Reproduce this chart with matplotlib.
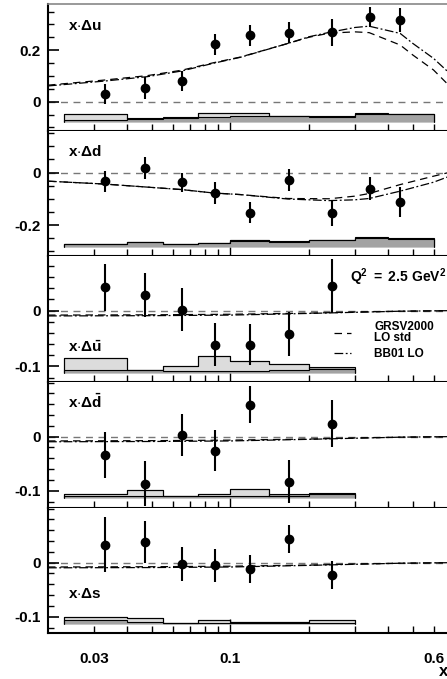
import numpy as np
import matplotlib
matplotlib.use('Agg')
import matplotlib.pyplot as plt
from matplotlib.ticker import FixedLocator, MultipleLocator, NullFormatter
from matplotlib.lines import Line2D

plt.rcParams['font.family'] = ['Liberation Sans', 'DejaVu Sans']
plt.rcParams['font.weight'] = 'bold'
plt.rcParams['mathtext.fontset'] = 'custom'
plt.rcParams['mathtext.rm'] = 'Liberation Sans:bold'
plt.rcParams['mathtext.bf'] = 'Liberation Sans:bold'
plt.rcParams['mathtext.it'] = 'Liberation Sans:bold'

# ---- data ----
x_pts = [0.033, 0.047, 0.065, 0.087, 0.119, 0.168, 0.245, 0.342, 0.447]
bin_edges = [0.023, 0.04, 0.055, 0.075, 0.1, 0.14, 0.2, 0.3, 0.4, 0.6]

u_val = [0.030, 0.052, 0.080, 0.222, 0.258, 0.267, 0.270, 0.329, 0.317]
u_err = [0.039, 0.043, 0.040, 0.042, 0.040, 0.041, 0.052, 0.039, 0.048]
d_val = [-0.034, 0.017, -0.038, -0.078, -0.153, -0.030, -0.153, -0.061, -0.114]
d_err = [0.041, 0.041, 0.038, 0.043, 0.039, 0.042, 0.049, 0.043, 0.057]
ubar_val = [0.042, 0.028, 0.002, -0.061, -0.061, -0.042, 0.044]
ubar_err = [0.042, 0.040, 0.039, 0.039, 0.037, 0.039, 0.049]
dbar_val = [-0.034, -0.087, 0.003, -0.026, 0.059, -0.083, 0.024]
dbar_err = [0.042, 0.042, 0.038, 0.038, 0.034, 0.040, 0.044]
s_val = [0.033, 0.038, -0.002, -0.005, -0.012, 0.043, -0.022]
s_err = [0.051, 0.039, 0.031, 0.030, 0.026, 0.026, 0.026]

# systematic bands: baseline, light (model) tops, dark (exp.) tops
u_base = -0.0775
u_light = [-0.048, -0.066, -0.063, -0.043, -0.045, -0.056, -0.058, -0.047, -0.049]
u_dark = [-0.070, -0.065, -0.061, -0.060, -0.057, -0.054, -0.056, -0.045, -0.047]
d_base = -0.284
d_light = [-0.272, -0.265, -0.273, -0.268, -0.257, -0.263, -0.258, -0.248, -0.252]
d_dark = [-0.273, -0.266, -0.272, -0.267, -0.261, -0.262, -0.256, -0.245, -0.249]
ubar_base = -0.112
ubar_light = [-0.085, -0.106, -0.100, -0.082, -0.090, -0.096, -0.104]
ubar_dark = [-0.107, -0.107, -0.108, -0.108, -0.108, -0.107, -0.101]
dbar_base = -0.114
dbar_light = [-0.107, -0.098, -0.110, -0.107, -0.096, -0.109, -0.106]
dbar_dark = [-0.110, -0.109, -0.109, -0.109, -0.109, -0.107, -0.105]
s_base = -0.114
s_light = [-0.100, -0.102, -0.111, -0.106, -0.110, -0.110, -0.106]
s_dark = [-0.106, -0.110, -0.111, -0.111, -0.111, -0.111, -0.111]

# model curves
bb_u_x = [0.02, 0.033, 0.048, 0.065, 0.086, 0.109, 0.166, 0.2, 0.239, 0.3, 0.34, 0.447, 0.5, 0.6, 0.7]
bb_u = [0.061, 0.080, 0.097, 0.119, 0.149, 0.172, 0.226, 0.252, 0.269, 0.288, 0.293, 0.265, 0.226, 0.168, 0.105]
gr_u = [0.064, 0.084, 0.101, 0.122, 0.151, 0.173, 0.226, 0.250, 0.266, 0.271, 0.268, 0.220, 0.181, 0.123, 0.055]

bb_d_x = [0.02, 0.033, 0.065, 0.086, 0.109, 0.166, 0.239, 0.3, 0.34, 0.447, 0.6, 0.7]
bb_d = [-0.033, -0.044, -0.065, -0.078, -0.084, -0.101, -0.107, -0.104, -0.099, -0.071, -0.037, -0.012]
gr_d = [-0.033, -0.044, -0.065, -0.078, -0.084, -0.099, -0.100, -0.090, -0.080, -0.046, -0.014, 0.002]

sea_x = [0.02, 0.05, 0.1, 0.2, 0.3, 0.45, 0.7]
bb_sea = [-0.0095, -0.009, -0.008, -0.005, -0.003, -0.001, 0.0]
gr_sea = [-0.008, -0.0075, -0.0065, -0.0045, -0.0025, -0.001, 0.0]

panels = [
    dict(lab=r'$\mathbf{x{\cdot}\Delta u}$', ly=0.80, y=u_val, e=u_err, base=u_base, lt=u_light, dk=u_dark,
         cx=bb_u_x, bb=bb_u, gr=gr_u, ylim=(-0.112, 0.378), minor=0.05,
         ticks=[0, 0.2], tlabs=['0', '0.2']),
    dict(lab=r'$\mathbf{x{\cdot}\Delta d}$', ly=0.80, y=d_val, e=d_err, base=d_base, lt=d_light, dk=d_dark,
         cx=bb_d_x, bb=bb_d, gr=gr_d, ylim=(-0.318, 0.16), minor=0.05,
         ticks=[-0.2, 0], tlabs=['-0.2', '0']),
    dict(lab=r'$\mathbf{x{\cdot}\Delta\bar{u}}$', ly=0.236, y=ubar_val, e=ubar_err, base=ubar_base, lt=ubar_light, dk=ubar_dark,
         cx=sea_x, bb=bb_sea, gr=gr_sea, ylim=(-0.128, 0.098), minor=0.02,
         ticks=[-0.1, 0], tlabs=['-0.1', '0']),
    dict(lab=r'$\mathbf{x{\cdot}\Delta\bar{d}}$', ly=0.79, y=dbar_val, e=dbar_err, base=dbar_base, lt=dbar_light, dk=dbar_dark,
         cx=sea_x, bb=bb_sea, gr=gr_sea, ylim=(-0.132, 0.101), minor=0.02,
         ticks=[-0.1, 0], tlabs=['-0.1', '0']),
    dict(lab=r'$\mathbf{x{\cdot}\Delta s}$', ly=0.28, y=s_val, e=s_err, base=s_base, lt=s_light, dk=s_dark,
         cx=sea_x, bb=bb_sea, gr=gr_sea, ylim=(-0.129, 0.101), minor=0.02,
         ticks=[-0.1, 0], tlabs=['-0.1', '0']),
]

W, H = 447, 679
fig = plt.figure(figsize=(W / 100, H / 100), dpi=100)
bounds = [4.3, 130.5, 256, 382, 508, 632.5]   # panel edges in pixels from top
left, width = 48 / W, 403 / W

dash_dot = (0, (7, 2, 1.5, 2))
dashed = (0, (6, 4))

for i, p in enumerate(panels):
    top, bot = bounds[i], bounds[i + 1]
    ax = fig.add_axes([left, 1 - bot / H, width, (bot - top) / H])
    ax.set_xscale('log')
    ax.set_xlim(0.02, 0.7)
    ax.set_ylim(*p['ylim'])

    n = len(p['y'])
    xs = x_pts[:n]
    edges = bin_edges[:n + 1]

    ax.axhline(0, ls=(0, (5, 4)), color='#777777', lw=1.0, zorder=1)
    ax.stairs(p['lt'], edges, baseline=p['base'], fill=True, facecolor='#dcdcdc',
              edgecolor='black', lw=0.8, zorder=2)
    ax.stairs(p['dk'], edges, baseline=p['base'], fill=True, facecolor='#a3a3a3',
              edgecolor='black', lw=0.8, zorder=3)
    ax.stairs(p['lt'], edges, baseline=p['base'], fill=False, color='black', lw=0.8, zorder=3)

    ax.plot(p['cx'], p['gr'], color='black', lw=0.9, ls=dashed, zorder=4)
    ax.plot(p['cx'], p['bb'], color='black', lw=0.9, ls=dash_dot, zorder=4)

    ax.errorbar(xs, p['y'], yerr=p['e'], fmt='o', color='black', ms=6,
                elinewidth=1.5, capsize=0, zorder=5)

    ax.text(0.049, p['ly'], p['lab'], transform=ax.transAxes, fontsize=11,
            ha='left', va='baseline')

    # axes styling
    ax.spines['right'].set_visible(False)
    if i == 0:
        ax.spines['top'].set_color('#888888')
        ax.spines['top'].set_linewidth(1.2)
    else:
        ax.spines['top'].set_visible(False)
    ax.spines['left'].set_linewidth(1.5)
    ax.spines['bottom'].set_linewidth(1.5)

    ax.set_yticks(p['ticks'])
    ax.set_yticklabels(p['tlabs'])
    ax.yaxis.set_minor_locator(MultipleLocator(p['minor']))
    ax.tick_params(axis='y', which='major', direction='in', length=8, width=1.2,
                   labelsize=11, pad=5, right=False)
    ax.tick_params(axis='y', which='minor', direction='in', length=4, width=1.0, right=False)

    ax.xaxis.set_major_locator(FixedLocator([0.03, 0.1, 0.6]))
    ax.xaxis.set_minor_locator(FixedLocator([0.04, 0.05, 0.06, 0.07, 0.08, 0.09,
                                             0.2, 0.3, 0.4, 0.5]))
    ax.xaxis.set_minor_formatter(NullFormatter())
    ax.tick_params(axis='x', which='both', direction='in', length=5, width=1.0,
                   top=False, labelsize=11, pad=14)
    if i == len(panels) - 1:
        ax.set_xticklabels(['0.03', '0.1', '0.6'])
    else:
        ax.set_xticklabels([])
    ax.xaxis.get_major_ticks()[1].tick1line.set_markersize(10)

    if i == 2:
        handles = [Line2D([], [], color='black', lw=0.9, ls=dashed),
                   Line2D([], [], color='black', lw=0.9, ls=dash_dot)]
        leg = fig.legend(handles, ['GRSV2000\nLO std', 'BB01 LO'], loc='upper left',
                         bbox_to_anchor=(334 / W, 1 - 321 / H), frameon=False,
                         fontsize=8.5, handlelength=1.4, handletextpad=2.0,
                         borderpad=0, borderaxespad=0, labelspacing=0.4)
        for t in leg.get_texts():
            t.set_linespacing(0.85)
        fig.text(350 / W, 1 - 282 / H, r'$\mathbf{Q^2\ =\ 2.5\ GeV^2}$', fontsize=10,
                 ha='left', va='baseline')

fig.text(439 / W, 1 - 676 / H, 'x', fontsize=12, ha='left', va='baseline')

fig.savefig('out.png', dpi=100)
